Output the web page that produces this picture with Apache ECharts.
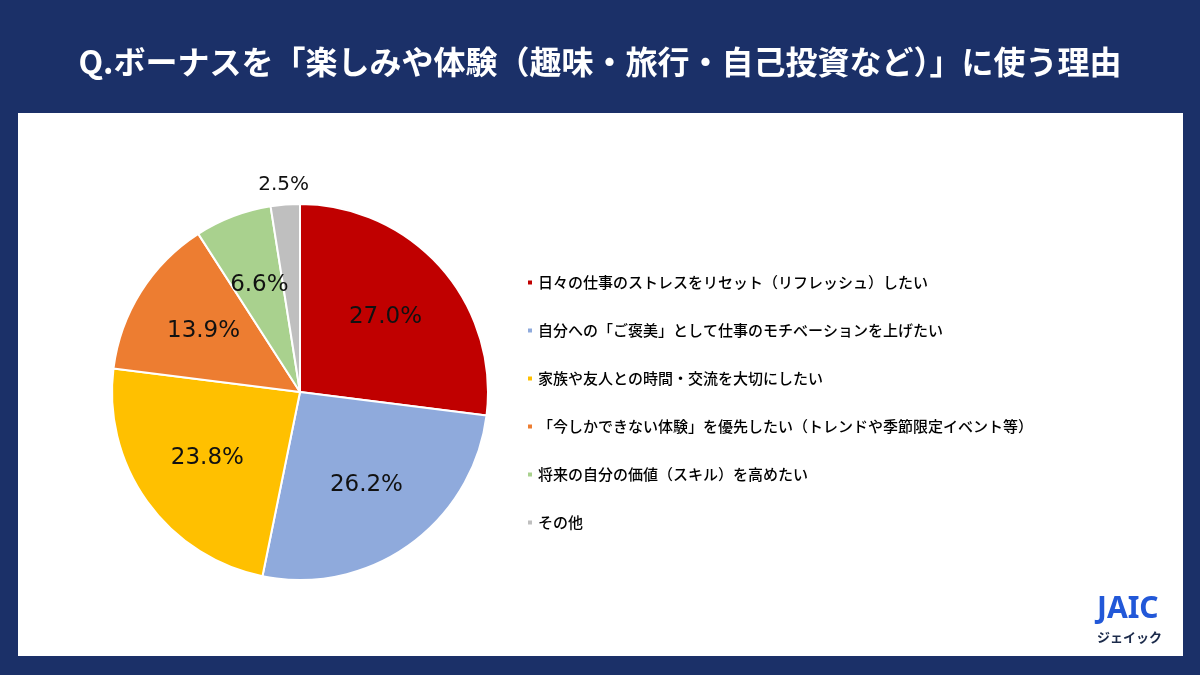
<!DOCTYPE html>
<html>
<head>
<meta charset="utf-8">
<script src="https://cdn.jsdelivr.net/npm/echarts@6/dist/echarts.min.js"></script>
<style>
  html, body { margin: 0; padding: 0; background: #1b3068; }
  #chart { width: 1200px; height: 675px; }
</style>
</head>
<body>
<div id="chart"></div>
<script>
const titleText = 'Q.ボーナスを「楽しみや体験（趣味・旅行・自己投資など）」に使う理由'

const categories = [
  '日々の仕事のストレスをリセット（リフレッシュ）したい',
  '自分への「ご褒美」として仕事のモチベーションを上げたい',
  '家族や友人との時間・交流を大切にしたい',
  '「今しかできない体験」を優先したい（トレンドや季節限定イベント等）',
  '将来の自分の価値（スキル）を高めたい',
  'その他',
]
const values = [27.0, 26.2, 23.8, 13.9, 6.6, 2.5]
const colors = ['#c00000', '#8faadc', '#ffc000', '#ed7d31', '#a9d18e', '#bfbfbf']
// the small slice gets its label outside the pie
const outsideLabel = [false, false, false, false, false, true]

const chart = echarts.init(document.getElementById('chart'))

const center = [300, 392]
const pieData = categories.map((name, i) => ({
  name,
  value: values[i],
  itemStyle: { color: colors[i] },
}))

// transparent rings, only used to place the percentage labels
const labelRing = (outside) =>
  categories.map((name, i) => ({
    name,
    value: values[i],
    label: { show: outsideLabel[i] === outside },
  }))

const ringBase = {
  type: 'pie',
  center,
  startAngle: 90,
  silent: true,
  itemStyle: { color: 'rgba(0,0,0,0)', borderWidth: 0 },
  emphasis: { disabled: true },
  labelLine: { show: false },
  tooltip: { show: false },
  legendHoverLink: false,
}

const option = {
  backgroundColor: '#1b3068',
  animation: false,
  title: {
    text: titleText,
    left: 'center',
    top: 41,
    textStyle: {
      color: '#ffffff',
      fontSize: 32,
      fontWeight: 'bold',
      fontFamily: '"Noto Sans CJK JP", sans-serif',
    },
  },
  graphic: [
    {
      type: 'rect',
      z: -10,
      shape: { x: 18, y: 113, width: 1165, height: 543 },
      style: { fill: '#ffffff' },
    },
    {
      type: 'text',
      left: 1097,
      top: 594,
      style: {
        text: 'JAIC',
        fill: '#2258d8',
        font: 'bold 30px "Noto Sans", sans-serif',
      },
    },
    {
      type: 'text',
      left: 1097,
      top: 631,
      style: {
        text: 'ジェイック',
        fill: '#1b2a4a',
        font: 'bold 13px "Noto Sans CJK JP", sans-serif',
      },
    },
  ],
  legend: {
    orient: 'vertical',
    left: 521,
    top: 270,
    icon: 'rect',
    itemWidth: 6,
    itemHeight: 6,
    itemGap: 33,
    selectedMode: false,
    data: categories,
    textStyle: {
      color: '#000000',
      fontSize: 15,
      fontWeight: 500,
      fontFamily: '"Noto Sans CJK JP", sans-serif',
    },
  },
  series: [
    {
      name: 'main',
      type: 'pie',
      center,
      radius: [0, 188],
      startAngle: 90,
      label: { show: false },
      labelLine: { show: false },
      itemStyle: { borderColor: '#ffffff', borderWidth: 2 },
      emphasis: { disabled: true },
      data: pieData,
    },
    {
      ...ringBase,
      name: 'inner-labels',
      radius: [34, 188],
      label: {
        position: 'inside',
        formatter: (p) => p.value.toFixed(1) + '%',
        color: '#111111',
        fontSize: 23,
        fontFamily: '"DejaVu Sans", sans-serif',
      },
      data: labelRing(false),
    },
    {
      ...ringBase,
      name: 'outer-labels',
      radius: [188, 222],
      label: {
        position: 'inside',
        formatter: (p) => p.value.toFixed(1) + '%',
        color: '#111111',
        fontSize: 20,
        fontFamily: '"DejaVu Sans", sans-serif',
      },
      data: labelRing(true),
    },
  ],
}

chart.setOption(option)
</script>
</body>
</html>
